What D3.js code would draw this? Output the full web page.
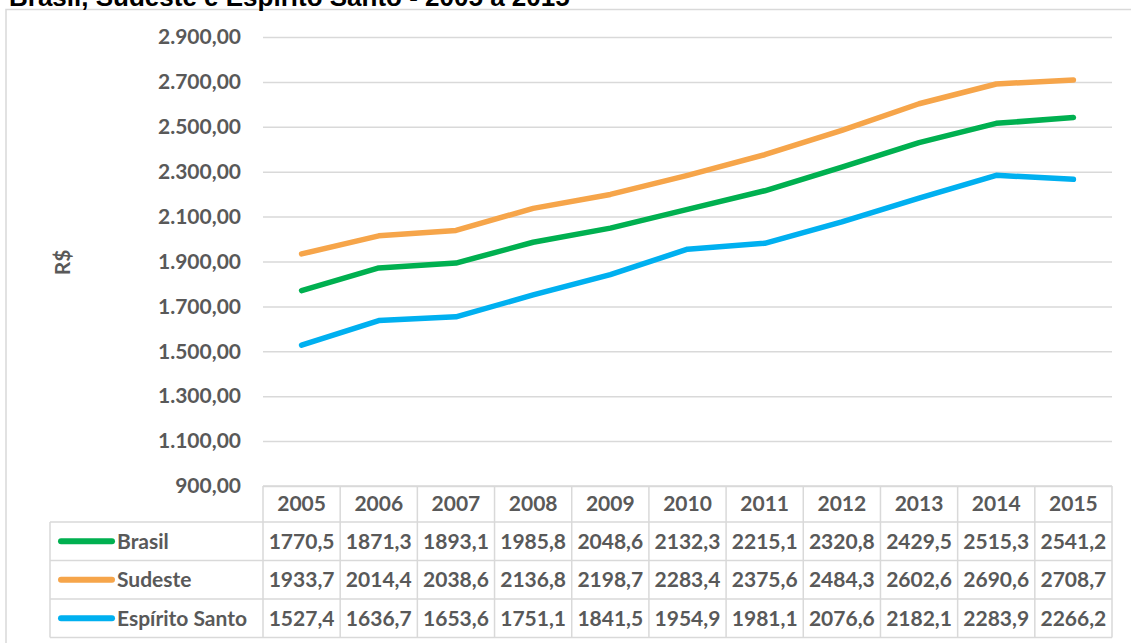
<!DOCTYPE html>
<html>
<head>
<meta charset="utf-8">
<script src="https://cdn.jsdelivr.net/npm/d3@7"></script>
<style>
  body { margin: 0; background: #fff; overflow: hidden; }
  svg { display: block; }
  text { font-family: Lato, "Open Sans", sans-serif; font-weight: bold; fill: #595959; }
</style>
</head>
<body>
<div id="chart"></div>
<script>
const years = [2005, 2006, 2007, 2008, 2009, 2010, 2011, 2012, 2013, 2014, 2015];
const brasil = [1770.5, 1871.3, 1893.1, 1985.8, 2048.6, 2132.3, 2215.1, 2320.8, 2429.5, 2515.3, 2541.2];
const sudeste = [1933.7, 2014.4, 2038.6, 2136.8, 2198.7, 2283.4, 2375.6, 2484.3, 2602.6, 2690.6, 2708.7];
const espiritoSanto = [1527.4, 1636.7, 1653.6, 1751.1, 1841.5, 1954.9, 1981.1, 2076.6, 2182.1, 2283.9, 2266.2];
const seriesNames = ["Brasil", "Sudeste", "Espírito Santo"];
const seriesColors = ["#00B050", "#F6A54A", "#00B0F0"];
const yTicks = [900, 1100, 1300, 1500, 1700, 1900, 2100, 2300, 2500, 2700, 2900];

const series = seriesNames.map((name, i) => ({
  name: name,
  color: seriesColors[i],
  values: [brasil, sudeste, espiritoSanto][i]
}));

const width = 1131, height = 643;
const plot = { left: 263, right: 1112, top: 37, bottom: 486 };
const tableLeft = 50;
const headerH = 36, rowH = 38.5;

const locale = d3.formatLocale({ decimal: ",", thousands: ".", grouping: [3], currency: ["R$", ""] });
const fmtAxis = locale.format(",.2f");
const fmtCell = locale.format(".1f");

const svg = d3.select("#chart").append("svg")
  .attr("width", width)
  .attr("height", height);

// chart border (only left and top are inside the picture)
svg.append("rect")
  .attr("x", 6).attr("y", 9.5)
  .attr("width", width + 40).attr("height", height + 40)
  .attr("fill", "none")
  .attr("stroke", "#D9D9D9")
  .attr("stroke-width", 1.5);

// title (cut off at the top in the original)
svg.append("text")
  .attr("x", 9).attr("y", 6)
  .style("font-family", "'Liberation Sans', Arial, sans-serif")
  .style("font-size", "26px")
  .style("fill", "#000")
  .text("Brasil, Sudeste e Espírito Santo - 2005 a 2015");

const x = d3.scaleBand().domain(years).range([plot.left, plot.right]);
const y = d3.scaleLinear().domain([900, 2900]).range([plot.bottom, plot.top]);

const yAxis = d3.axisLeft(y).tickValues(yTicks).tickFormat(fmtAxis)
  .tickSize(-(plot.right - plot.left)).tickPadding(22);

const gy = svg.append("g")
  .attr("transform", `translate(${plot.left},0)`)
  .call(yAxis);
gy.select(".domain").remove();
gy.selectAll(".tick line").attr("stroke", "#D9D9D9").attr("stroke-width", 1.5);
gy.selectAll(".tick text").style("font-size", "21px").style("fill", "#595959")
  .style("font-family", "Lato, sans-serif").style("font-weight", "bold");

svg.append("text")
  .attr("transform", `translate(70, ${(plot.top + plot.bottom) / 2 + 1}) rotate(-90)`)
  .attr("text-anchor", "middle")
  .style("font-size", "21px")
  .text("R$");

// lines
const line = d3.line()
  .x((d, i) => x(years[i]) + x.bandwidth() / 2)
  .y(d => y(d));

svg.append("g").selectAll("path")
  .data(series)
  .enter()
  .append("path")
  .attr("d", d => line(d.values))
  .attr("fill", "none")
  .attr("stroke", d => d.color)
  .attr("stroke-width", 5.5)
  .attr("stroke-linecap", "round")
  .attr("stroke-linejoin", "round");

// data table
const table = svg.append("g");
const gridColor = "#D9D9D9";
const tableBottom = plot.bottom + headerH + rowH * series.length;

// horizontal lines
table.append("line")
  .attr("x1", plot.left).attr("x2", plot.right)
  .attr("y1", plot.bottom).attr("y2", plot.bottom)
  .attr("stroke", gridColor).attr("stroke-width", 1.5);
for (let r = 0; r <= series.length; r++) {
  const yy = plot.bottom + headerH + rowH * r;
  table.append("line")
    .attr("x1", tableLeft).attr("x2", plot.right)
    .attr("y1", yy).attr("y2", yy)
    .attr("stroke", gridColor).attr("stroke-width", 1.5);
}
// vertical lines
table.append("line")
  .attr("x1", tableLeft).attr("x2", tableLeft)
  .attr("y1", plot.bottom + headerH).attr("y2", tableBottom)
  .attr("stroke", gridColor).attr("stroke-width", 1.5);
years.concat([null]).forEach((yr, i) => {
  const xx = i < years.length ? x(yr) : plot.right;
  table.append("line")
    .attr("x1", xx).attr("x2", xx)
    .attr("y1", plot.bottom).attr("y2", tableBottom)
    .attr("stroke", gridColor).attr("stroke-width", 1.5);
});

// header
table.selectAll(".yr")
  .data(years)
  .enter()
  .append("text")
  .attr("class", "yr")
  .attr("x", d => x(d) + x.bandwidth() / 2)
  .attr("y", plot.bottom + headerH / 2)
  .attr("dy", "0.35em")
  .attr("text-anchor", "middle")
  .style("font-size", "21px")
  .text(d => d);

// rows
series.forEach((s, r) => {
  const cy = plot.bottom + headerH + rowH * r + rowH / 2;
  table.append("line")
    .attr("x1", 61).attr("x2", 112)
    .attr("y1", cy).attr("y2", cy)
    .attr("stroke", s.color)
    .attr("stroke-width", 6)
    .attr("stroke-linecap", "round");
  table.append("text")
    .attr("x", 117).attr("y", cy)
    .attr("dy", "0.35em")
    .style("font-size", "21px")
    .text(s.name);
  table.selectAll(".v" + r)
    .data(s.values)
    .enter()
    .append("text")
    .attr("class", "v" + r)
    .attr("x", (d, i) => x(years[i]) + x.bandwidth() / 2)
    .attr("y", cy)
    .attr("dy", "0.35em")
    .attr("text-anchor", "middle")
    .style("font-size", "21px")
    .text(d => fmtCell(d));
});
</script>
</body>
</html>
